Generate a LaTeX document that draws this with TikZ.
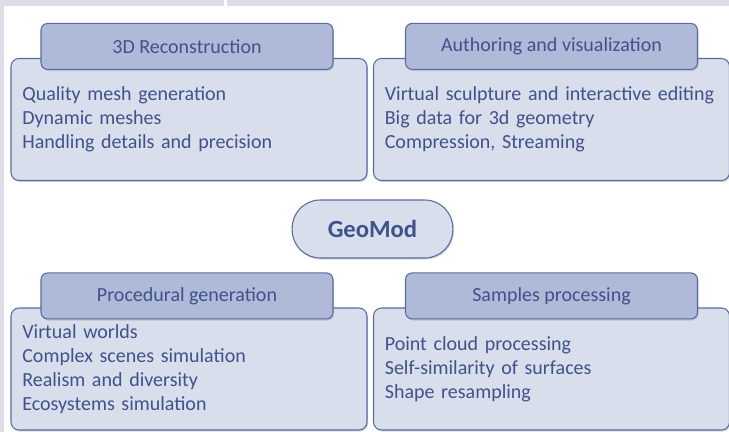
\documentclass[tikz,border=0pt]{standalone}
\usepackage{fontspec}
\setmainfont{Carlito}
\usetikzlibrary{positioning, shadows}

\definecolor{boxfill}{HTML}{D8DEEC}
\definecolor{tabfill}{HTML}{AFB9D8}
\definecolor{boxline}{HTML}{5A6C9E}
\definecolor{boxtext}{HTML}{40528A}
\definecolor{framegray}{HTML}{DDDEE7}

\begin{document}
\begin{tikzpicture}[x=0.75pt, y=-0.75pt,
    topicnode/.style={rectangle, rounded corners=6pt, draw=boxline, line width=0.8pt, fill=boxfill,
        drop shadow={shadow xshift=0.8pt, shadow yshift=-1.2pt, opacity=0.3},
        minimum width=267pt, minimum height=91.5pt, inner xsep=8.5pt, text width=250pt,
        align=left, text=boxtext, font=\fontsize{15pt}{18pt}\selectfont},
    tabnode/.style={rectangle, rounded corners=5pt, draw=boxline, line width=0.8pt, fill=tabfill,
        drop shadow={shadow xshift=0.8pt, shadow yshift=-1.2pt, opacity=0.3},
        minimum width=219pt, minimum height=34.5pt, text=boxtext, font=\fontsize{15pt}{18pt}\selectfont},
]
\useasboundingbox (0,0) rectangle (729,432);
\fill[white] (0,0) rectangle (729,432);
% grey frame of the slide
\fill[framegray] (0,0) rectangle (224,6);
\fill[framegray] (227,0) rectangle (729,6);
\fill[framegray] (0,0) rectangle (4,432);

\node[topicnode](recon) at (189,119.5){Quality mesh generation\\Dynamic meshes\\Handling details and precision};
\node[tabnode](recon_tab)[above = -9pt of recon.north, xshift=-1.5pt]{3D Reconstruction};

\node[topicnode](author) at (551.5,119.5){Virtual sculpture and interactive editing\\Big data for 3d geometry\\Compression, Streaming};
\node[tabnode](author_tab)[above = -9pt of author.north]{Authoring and visualization};

\node[topicnode](proc) at (189,369){Virtual worlds\\Complex scenes simulation\\Realism and diversity\\Ecosystems simulation};
\node[tabnode](proc_tab)[above = -9pt of proc.north, xshift=-1.5pt]{Procedural generation};

\node[topicnode](samples) at (551.5,369){Point cloud processing\\Self-similarity of surfaces\\Shape resampling};
\node[tabnode](samples_tab)[above = -9pt of samples.north]{Samples processing};

\node[rectangle, rounded corners=21pt, draw=boxline, line width=0.8pt, fill=boxfill,
    drop shadow={shadow xshift=0.8pt, shadow yshift=-1.2pt, opacity=0.3},
    minimum width=120.5pt, minimum height=43.5pt, text=boxtext,
    font=\fontsize{18.5pt}{22pt}\selectfont\bfseries](geomod) at (372.5,229){GeoMod};
\end{tikzpicture}
\end{document}
